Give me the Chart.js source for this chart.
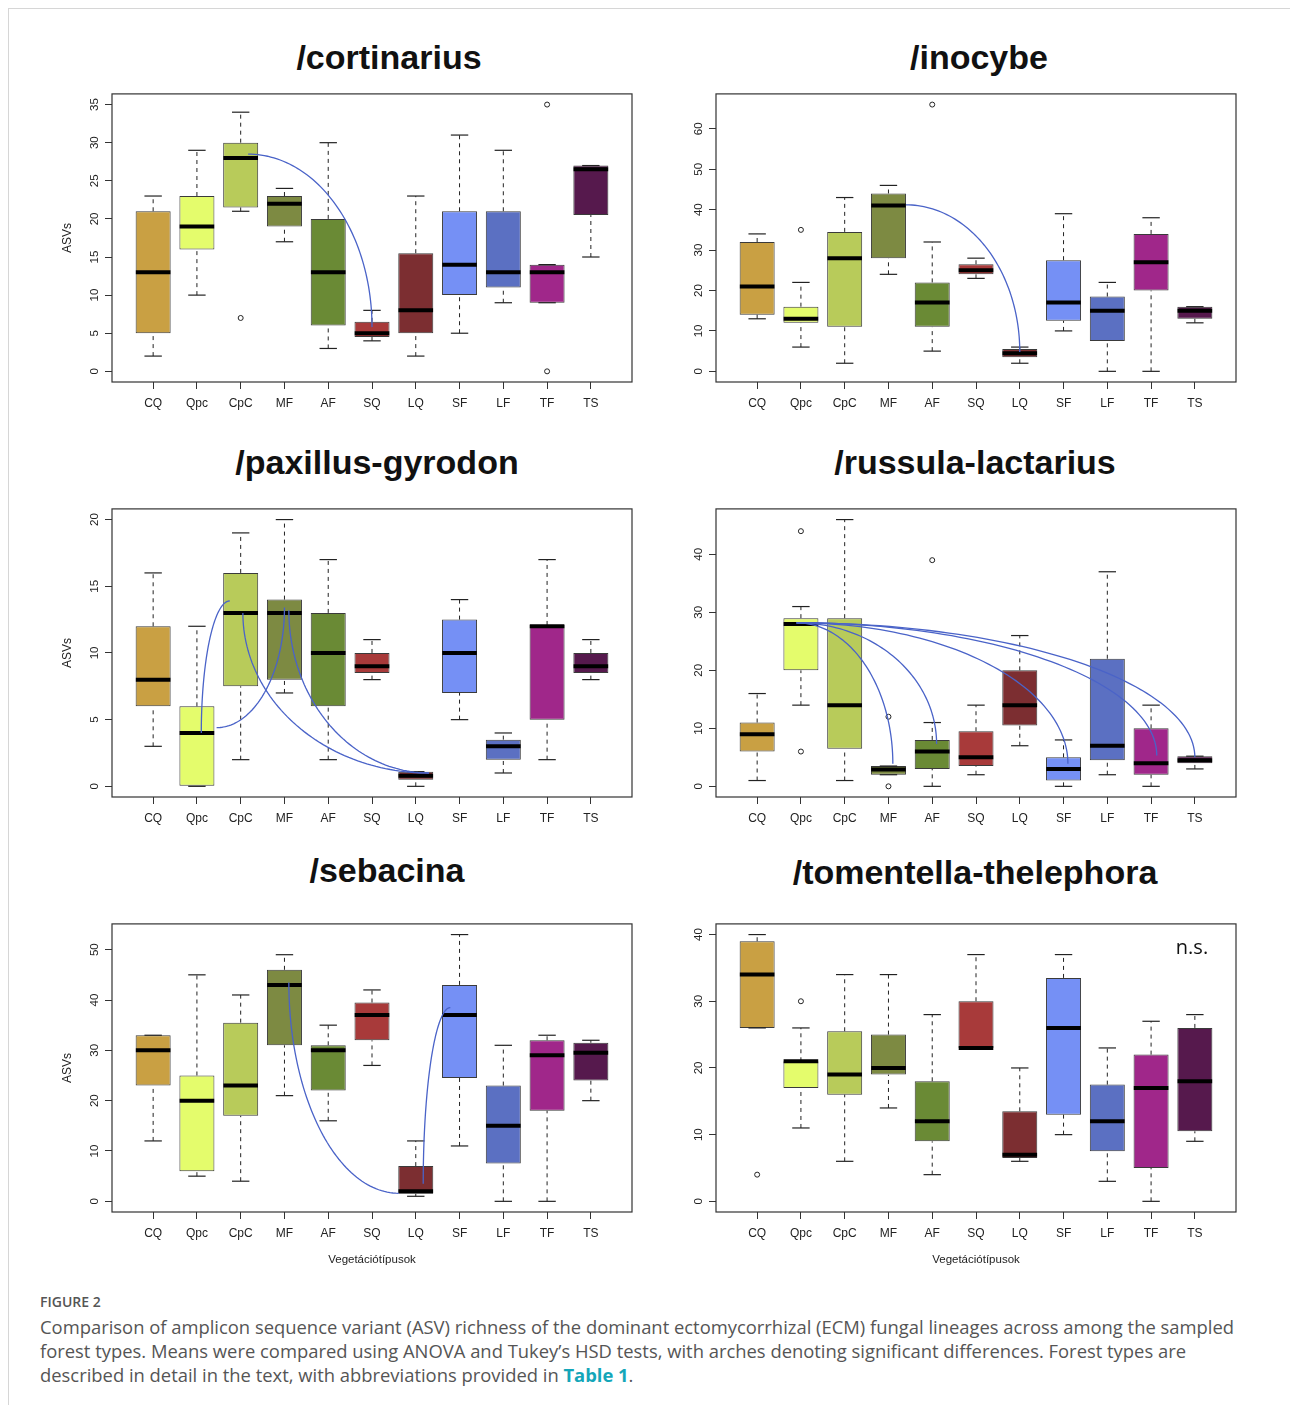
<!DOCTYPE html>
<html>
<head>
<meta charset="utf-8">
<script src="https://cdn.jsdelivr.net/npm/chart.js@4.4.0/dist/chart.umd.min.js"></script>
<style>
  body { margin: 0; background: #fff; }
  #page { position: relative; width: 1290px; height: 1405px; overflow: hidden; font-family: "Liberation Sans", Arial, sans-serif; }
  .edge { position: absolute; left: 8px; top: 8px; right: 0; bottom: 0; border-left: 1px solid #d6d6d6; border-top: 1px solid #d6d6d6; }
  .title { position: absolute; transform: translate(-50%, -50%); font-weight: bold; font-size: 34px; color: #111; white-space: nowrap; }
  canvas { position: absolute; }
  .ns { position: absolute; transform: translate(-50%, -50%); font-family: "Open Sans", sans-serif; font-size: 20px; color: #111; }
  .fig { position: absolute; left: 40px; top: 1292px; font-family: "Open Sans", sans-serif; font-size: 14px; font-weight: 600; color: #555; }
  .caption { position: absolute; left: 40px; top: 1315px; font-family: "Open Sans", sans-serif; font-size: 18.4px; line-height: 24px; color: #555; white-space: nowrap; }
  .caption b { color: #14a6b9; }
</style>
</head>
<body>
<div id="page">
  <div class="edge"></div>

  <div class="title" style="left:389px; top:57px">/cortinarius</div>
  <div class="title" style="left:979px; top:57px">/inocybe</div>
  <div class="title" style="left:377px; top:462px">/paxillus-gyrodon</div>
  <div class="title" style="left:975px; top:462px">/russula-lactarius</div>
  <div class="title" style="left:387px; top:870px">/sebacina</div>
  <div class="title" style="left:975px; top:872px">/tomentella-thelephora</div>

  <canvas id="cort" width="596" height="339" style="left:46px; top:83px"></canvas>
  <canvas id="ino" width="596" height="339" style="left:650px; top:83px"></canvas>
  <canvas id="pax" width="596" height="339" style="left:46px; top:498px"></canvas>
  <canvas id="rus" width="596" height="339" style="left:650px; top:498px"></canvas>
  <canvas id="seb" width="596" height="364" style="left:46px; top:913px"></canvas>
  <canvas id="tom" width="596" height="364" style="left:650px; top:913px"></canvas>

  <div class="ns" style="left:1192px; top:946px">n.s.</div>

  <div class="fig">FIGURE 2</div>
  <div class="caption">
    Comparison of amplicon sequence variant (ASV) richness of the dominant ectomycorrhizal (ECM) fungal lineages across among the sampled<br>
    forest types. Means were compared using ANOVA and Tukey’s HSD tests, with arches denoting significant differences. Forest types are<br>
    described in detail in the text, with abbreviations provided in <b>Table 1</b>.
  </div>
</div>

<script>
// forest types and their box colours
const categories = ['CQ', 'Qpc', 'CpC', 'MF', 'AF', 'SQ', 'LQ', 'SF', 'LF', 'TF', 'TS'];
const boxColors = ['#c9a043', '#e4fc6c', '#b8cb5a', '#7d8a42', '#6a8a35', '#a83a3a', '#7c2e31', '#7590f5', '#5b70c2', '#a0278a', '#56194d'];

// /cortinarius  (whisker low, Q1, median, Q3, whisker high)
const cortMin = [2, 10, 21, 17, 3, 4, 2, 5, 9, 9, 15];
const cortQ1 = [5, 16, 21.5, 19, 6, 4.5, 5, 10, 11, 9, 20.5];
const cortMed = [13, 19, 28, 22, 13, 5, 8, 14, 13, 13, 26.5];
const cortQ3 = [21, 23, 30, 23, 20, 6.5, 15.5, 21, 21, 14, 27];
const cortMax = [23, 29, 34, 24, 30, 8, 23, 31, 29, 14, 27];
const cortOut = [['CpC', 7], ['TF', 35], ['TF', 0]];
const cortTicks = [0, 5, 10, 15, 20, 25, 30, 35];
const cortArches = [['CpC', 28.5, 'SQ', 5.8, 'h', 0.17, 0]];

// /inocybe
const inoMin = [13, 6, 2, 24, 5, 23, 2, 10, 0, 0, 12];
const inoQ1 = [14, 12, 11, 28, 11, 24, 3.5, 12.5, 7.5, 20, 13];
const inoMed = [21, 13, 28, 41, 17, 25, 4.5, 17, 15, 27, 15];
const inoQ3 = [32, 16, 34.5, 44, 22, 26.5, 5.5, 27.5, 18.5, 34, 16];
const inoMax = [34, 22, 43, 46, 32, 28, 6, 39, 22, 38, 16];
const inoOut = [['Qpc', 35], ['AF', 66]];
const inoTicks = [0, 10, 20, 30, 40, 50, 60];
const inoArches = [['MF', 41.2, 'LQ', 4.8, 'h', 0.4, 0]];

// /paxillus-gyrodon
const paxMin = [3, 0, 2, 7, 2, 8, 0, 5, 1, 2, 8];
const paxQ1 = [6, 0, 7.5, 8, 6, 8.5, 0.5, 7, 2, 5, 8.5];
const paxMed = [8, 4, 13, 13, 10, 9, 0.8, 10, 3, 12, 9];
const paxQ3 = [12, 6, 16, 14, 13, 10, 1.1, 12.5, 3.5, 12.1, 10];
const paxMax = [16, 12, 19, 20, 17, 11, 1.1, 14, 4, 17, 11];
const paxOut = [];
const paxTicks = [0, 5, 10, 15, 20];
const paxArches = [
  ['Qpc', 4, 'CpC', 13.9, 'v', 0.1, -0.25],
  ['Qpc', 4.4, 'MF', 13.4, 'h', 0.45, 0],
  ['CpC', 13, 'LQ', 1, 'v', 0.05, 0.3],
  ['MF', 13.2, 'LQ', 1, 'v', 0.1, 0.3]
];

// /russula-lactarius
const rusMin = [1, 14, 1, 2, 0, 2, 7, 0, 2, 0, 3];
const rusQ1 = [6, 20, 6.5, 2, 3, 3.5, 10.5, 1, 4.5, 2, 4];
const rusMed = [9, 28, 14, 2.9, 6, 5, 14, 3, 7, 4, 4.5];
const rusQ3 = [11, 29, 29, 3.5, 8, 9.5, 20, 5, 22, 10, 5.2];
const rusMax = [16, 31, 46, 3.5, 11, 14, 26, 8, 37, 14, 5.2];
const rusOut = [['Qpc', 44], ['Qpc', 6], ['MF', 12], ['MF', 0], ['AF', 39]];
const rusTicks = [0, 10, 20, 30, 40];
const rusArches = [
  ['Qpc', 28.2, 'MF', 3.9, 'h', -0.1, 0.1],
  ['Qpc', 28.2, 'AF', 7.3, 'h', -0.1, 0.1],
  ['Qpc', 28.2, 'SF', 3.9, 'h', -0.1, 0.1],
  ['Qpc', 28.2, 'TF', 5.3, 'h', -0.1, 0.13],
  ['Qpc', 28.2, 'TS', 5.0, 'h', -0.1, 0]
];

// /sebacina
const sebMin = [12, 5, 4, 21, 16, 27, 1, 11, 0, 0, 20];
const sebQ1 = [23, 6, 17, 31, 22, 32, 1.5, 24.5, 7.5, 18, 24];
const sebMed = [30, 20, 23, 43, 30, 37, 2, 37, 15, 29, 29.5];
const sebQ3 = [33, 25, 35.5, 46, 31, 39.5, 7, 43, 23, 32, 31.5];
const sebMax = [33, 45, 41, 49, 35, 42, 12, 53, 31, 33, 32];
const sebOut = [];
const sebTicks = [0, 10, 20, 30, 40, 50];
const sebArches = [
  ['MF', 43.5, 'LQ', 1.6, 'v', 0.1, -0.39],
  ['LQ', 3.5, 'SF', 38.5, 'v', 0.17, -0.21]
];

// /tomentella-thelephora
const tomMin = [26, 11, 6, 14, 4, 23, 6, 10, 3, 0, 9];
const tomQ1 = [26, 17, 16, 19, 9, 23, 6.5, 13, 7.5, 5, 10.5];
const tomMed = [34, 21, 19, 20, 12, 23, 7, 26, 12, 17, 18];
const tomQ3 = [39, 21, 25.5, 25, 18, 30, 13.5, 33.5, 17.5, 22, 26];
const tomMax = [40, 26, 34, 34, 28, 37, 20, 37, 23, 27, 28];
const tomOut = [['CQ', 4], ['Qpc', 30]];
const tomTicks = [0, 10, 20, 30, 40];
const tomArches = [];

const axisFont = { family: '"Liberation Sans", Arial, sans-serif', size: 12 };

// box outline around the plotting region (R style)
const framePlugin = {
  id: 'frame',
  afterDatasetsDraw(chart) {
    const { ctx, chartArea: a } = chart;
    ctx.save();
    ctx.strokeStyle = '#333';
    ctx.lineWidth = 1.2;
    ctx.strokeRect(a.left, a.top, a.right - a.left, a.bottom - a.top);
    ctx.restore();
  }
};

// quarter-ellipse arches marking significant pairs
const archPlugin = {
  id: 'arches',
  afterDatasetsDraw(chart, args, opts) {
    const list = opts.list || [];
    const { ctx, scales: { x, y } } = chart;
    ctx.save();
    ctx.strokeStyle = '#4a63c8';
    ctx.lineWidth = 1.3;
    list.forEach(([c1, y1, c2, y2, dir, d1, d2]) => {
      const px1 = x.getPixelForValue(categories.indexOf(c1) + 1 + d1);
      const px2 = x.getPixelForValue(categories.indexOf(c2) + 1 + d2);
      const py1 = y.getPixelForValue(y1);
      const py2 = y.getPixelForValue(y2);
      ctx.beginPath();
      for (let k = 0; k <= 60; k++) {
        const t = k / 60 * Math.PI / 2;
        let px, py;
        if (dir === 'h') {
          px = px1 + (px2 - px1) * Math.sin(t);
          py = py2 + (py1 - py2) * Math.cos(t);
        } else {
          px = px2 - (px2 - px1) * Math.cos(t);
          py = py1 + (py2 - py1) * Math.sin(t);
        }
        if (k === 0) ctx.moveTo(px, py); else ctx.lineTo(px, py);
      }
      ctx.stroke();
    });
    ctx.restore();
  }
};

function boxplot(id, lo, q1, med, q3, hi, outliers, ticks, arches, yTitle, xTitle) {
  const outVals = outliers.map(o => o[1]);
  const dMin = Math.min(...lo, ...outVals);
  const dMax = Math.max(...hi, ...outVals);
  const ext = (dMax - dMin) * 0.04;

  const stems = [];
  categories.forEach((c, i) => {
    stems.push({ x: i + 1, y: lo[i] }, { x: i + 1, y: q1[i] }, { x: i + 1, y: null });
    stems.push({ x: i + 1, y: q3[i] }, { x: i + 1, y: hi[i] }, { x: i + 1, y: null });
  });
  const caps = [];
  categories.forEach((c, i) => {
    caps.push({ x: i + 1, y: lo[i] }, { x: i + 1, y: hi[i] });
  });

  new Chart(document.getElementById(id), {
    type: 'bar',
    data: {
      datasets: [
        {
          type: 'line',
          data: stems,
          borderColor: '#222',
          borderWidth: 1,
          borderDash: [4, 4],
          pointRadius: 0,
          spanGaps: false,
          order: 5
        },
        {
          type: 'bar',
          data: categories.map((c, i) => ({ x: i + 1, y: [q1[i], q3[i]] })),
          backgroundColor: boxColors,
          borderColor: '#3a3a3a',
          borderWidth: 1,
          borderSkipped: false,
          barPercentage: 0.8,
          categoryPercentage: 1,
          order: 4
        },
        {
          type: 'line',
          data: caps,
          showLine: false,
          pointStyle: 'line',
          pointRadius: 8.7,
          pointBorderWidth: 1.2,
          pointBorderColor: '#222',
          order: 3
        },
        {
          type: 'line',
          data: categories.map((c, i) => ({ x: i + 1, y: med[i] })),
          showLine: false,
          pointStyle: 'line',
          pointRadius: 17.3,
          pointBorderWidth: 4,
          pointBorderColor: '#000',
          order: 2
        },
        {
          type: 'line',
          data: outliers.map(o => ({ x: categories.indexOf(o[0]) + 1, y: o[1] })),
          showLine: false,
          pointStyle: 'circle',
          pointRadius: 2.5,
          pointBorderWidth: 1,
          pointBorderColor: '#222',
          pointBackgroundColor: 'rgba(255,255,255,0)',
          order: 1
        }
      ]
    },
    options: {
      responsive: false,
      devicePixelRatio: 1,
      animation: false,
      events: [],
      layout: { autoPadding: false, padding: { left: 0, right: 10, top: 10, bottom: 0 } },
      plugins: {
        legend: { display: false },
        tooltip: { enabled: false },
        arches: { list: arches }
      },
      scales: {
        x: {
          type: 'linear',
          offset: false,
          min: 0.06,
          max: 11.94,
          afterBuildTicks: s => { s.ticks = categories.map((c, i) => ({ value: i + 1 })); },
          afterFit: s => { s.height = xTitle ? 65 : 40; },
          ticks: {
            callback: v => categories[Math.round(v) - 1],
            autoSkip: false,
            maxRotation: 0,
            padding: 7,
            color: '#222',
            font: axisFont
          },
          grid: { offset: false, drawOnChartArea: false, drawTicks: true, tickLength: 7, color: '#333' },
          border: { display: false },
          title: {
            display: !!xTitle,
            text: xTitle || '',
            color: '#222',
            font: { family: axisFont.family, size: 11.5 },
            padding: { top: 0, bottom: 10 }
          }
        },
        y: {
          type: 'linear',
          min: dMin - ext,
          max: dMax + ext,
          afterBuildTicks: s => { s.ticks = ticks.map(v => ({ value: v })); },
          afterFit: s => { s.width = 66; },
          ticks: {
            minRotation: 90,
            maxRotation: 90,
            crossAlign: 'center',
            padding: 4,
            color: '#222',
            font: { family: axisFont.family, size: 11.5 }
          },
          grid: { drawOnChartArea: false, drawTicks: true, tickLength: 7, color: '#333' },
          border: { display: false },
          title: {
            display: !!yTitle,
            text: yTitle || '',
            color: '#222',
            font: { family: axisFont.family, size: 12 },
            padding: { top: 14, bottom: 0 }
          }
        }
      }
    },
    plugins: [framePlugin, archPlugin]
  });
}

boxplot('cort', cortMin, cortQ1, cortMed, cortQ3, cortMax, cortOut, cortTicks, cortArches, 'ASVs', null);
boxplot('ino', inoMin, inoQ1, inoMed, inoQ3, inoMax, inoOut, inoTicks, inoArches, null, null);
boxplot('pax', paxMin, paxQ1, paxMed, paxQ3, paxMax, paxOut, paxTicks, paxArches, 'ASVs', null);
boxplot('rus', rusMin, rusQ1, rusMed, rusQ3, rusMax, rusOut, rusTicks, rusArches, null, null);
boxplot('seb', sebMin, sebQ1, sebMed, sebQ3, sebMax, sebOut, sebTicks, sebArches, 'ASVs', 'Vegetációtípusok');
boxplot('tom', tomMin, tomQ1, tomMed, tomQ3, tomMax, tomOut, tomTicks, tomArches, null, 'Vegetációtípusok');
</script>
</body>
</html>
